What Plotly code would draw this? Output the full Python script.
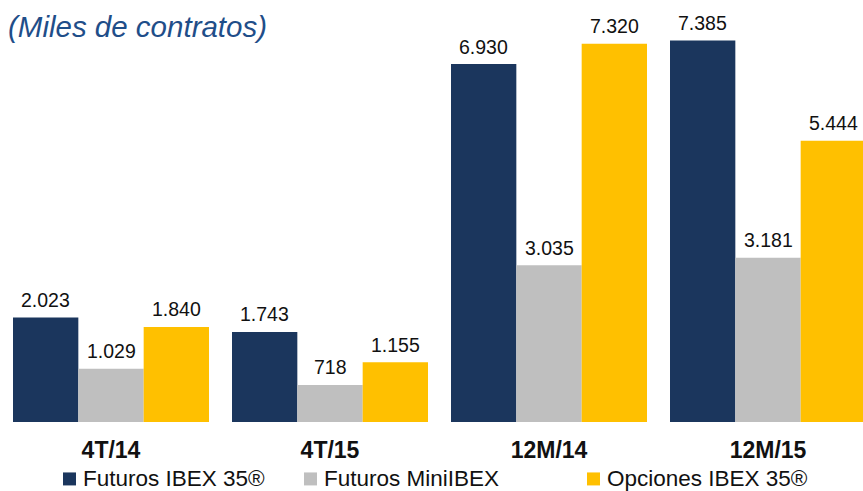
import plotly.graph_objects as go

# Contract volumes (thousands) per period
periods = ["4T/14", "4T/15", "12M/14", "12M/15"]
series_names = ["Futuros IBEX 35®", "Futuros MiniIBEX", "Opciones IBEX 35®"]
futuros_ibex = [2023, 1743, 6930, 7385]
futuros_mini = [1029, 718, 3035, 3181]
opciones_ibex = [1840, 1155, 7320, 5444]

colors = ["#1B365D", "#BFBFBF", "#FFC000"]
values = [futuros_ibex, futuros_mini, opciones_ibex]

W, H = 863, 491
BOTTOM = 68.5
PLOT_H = H - BOTTOM
BARGAP = 0.105
xs = list(range(len(periods)))


def py(px):
    """pixel row (from top of figure) -> paper y (plot area spans 0..PLOT_H)"""
    return 1 - px / PLOT_H


def pxx(px):
    return px / W


fig = go.Figure()
for name, vals, col in zip(series_names, values, colors):
    fig.add_trace(go.Bar(
        x=xs, y=vals, name=name,
        marker=dict(color=col, line=dict(width=0)),
        showlegend=False,
    ))


def fmt(v):
    return f"{v:,}".replace(",", ".")


# value labels above every bar
bar_w = (1 - BARGAP) / len(values)
annotations = []
for si, vals in enumerate(values):
    off = (si - (len(values) - 1) / 2) * bar_w
    for xi, v in zip(xs, vals):
        annotations.append(dict(
            x=xi + off, y=v, xref="x", yref="y",
            text=fmt(v), showarrow=False,
            yanchor="middle", yshift=17.5,
            font=dict(family="Liberation Sans, Arial", size=19.5, color="#111111"),
        ))

# subtitle
annotations.append(dict(
    x=pxx(6), y=py(27), xref="paper", yref="paper",
    xanchor="left", yanchor="middle", showarrow=False,
    text="<i>(Miles de contratos)</i>",
    font=dict(family="Liberation Sans, Arial", size=29.5, color="#1F4E89"),
))

# legend drawn as squares + labels along the bottom
legend_x = [63, 304, 587]
legend_yc = 479.5
shapes = []
for name, col, lx in zip(series_names, colors, legend_x):
    shapes.append(dict(
        type="rect", xref="paper", yref="paper", layer="above",
        x0=pxx(lx), x1=pxx(lx + 13),
        y0=py(legend_yc + 6.5), y1=py(legend_yc - 6.5),
        fillcolor=col, line=dict(width=0),
    ))
    annotations.append(dict(
        x=pxx(lx + 18), y=py(legend_yc), xref="paper", yref="paper",
        xanchor="left", yanchor="middle", showarrow=False,
        text=name,
        font=dict(family="Liberation Sans, Arial", size=22.5, color="#111111"),
    ))

x0 = -111 / 219
x1 = (W - 111) / 219
ymax = PLOT_H / 0.05172

fig.update_layout(
    width=W, height=H,
    margin=dict(l=0, r=0, t=0, b=BOTTOM, pad=0),
    paper_bgcolor="white", plot_bgcolor="white",
    barmode="group", bargap=BARGAP, bargroupgap=0,
    annotations=annotations, shapes=shapes,
    xaxis=dict(
        range=[x0, x1], tickvals=xs, ticktext=[f"<b>{p}</b>" for p in periods],
        showgrid=False, zeroline=False, showline=False, ticks="",
        tickfont=dict(family="Liberation Sans, Arial", size=23, color="#111111"),
        ticklabelstandoff=12,
    ),
    yaxis=dict(
        range=[0, ymax], visible=False, showgrid=False, zeroline=False,
    ),
)

fig.write_html("out.html")
